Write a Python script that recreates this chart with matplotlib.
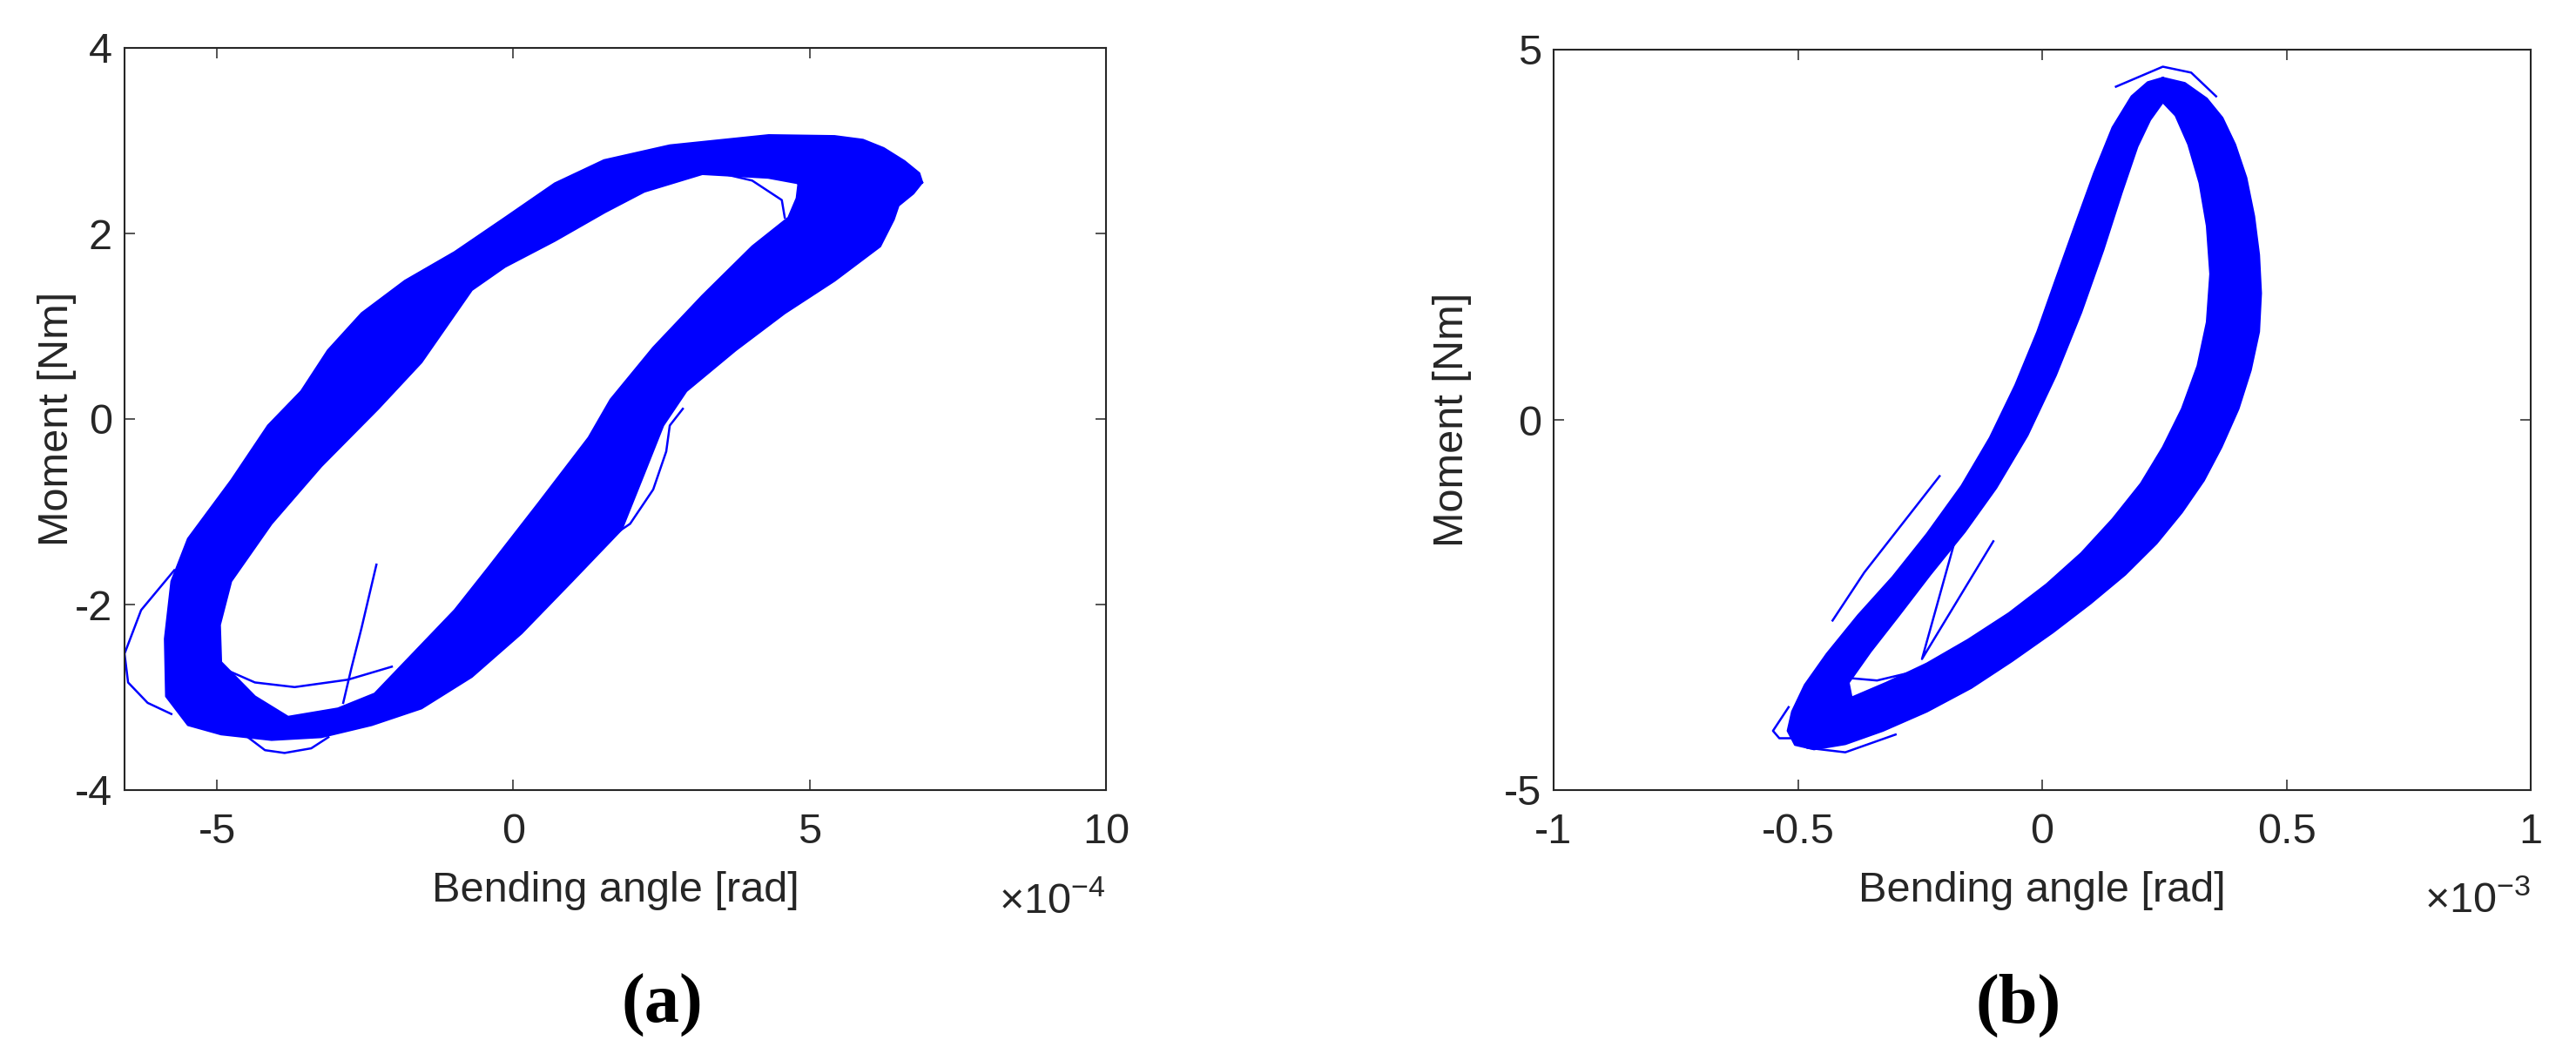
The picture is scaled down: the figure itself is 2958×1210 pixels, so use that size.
import matplotlib
matplotlib.use('Agg')
import matplotlib.pyplot as plt

plt.rcParams['font.family'] = ['Liberation Sans', 'DejaVu Sans']
plt.rcParams['mathtext.fontset'] = 'custom'
plt.rcParams['mathtext.rm'] = 'Liberation Sans'
plt.rcParams['axes.unicode_minus'] = False

TXT = '#262626'
BLUE = '#0000ff'

# panel (a): bending angle in units of 1e-4 rad, moment in Nm
# outer edge of the dense band of cycles
a_outer_x = [6.90, 6.85, 6.60, 6.25, 5.90, 5.42, 4.31, 2.64, 1.53, 0.70, -0.14, -0.99, -1.83,
             -2.56, -3.13, -3.58, -4.14, -4.76, -5.49, -5.77, -5.88, -5.86, -5.49, -4.93,
             -4.08, -3.24, -2.39, -1.55, -0.70, 0.14, 0.99, 1.83, 2.20, 2.53, 2.92, 3.75,
             4.58, 5.42, 6.19, 6.42, 6.50, 6.75]
a_outer_y = [2.55, 2.65, 2.78, 2.92, 3.01, 3.05, 3.06, 2.95, 2.79, 2.54, 2.17, 1.80, 1.49,
             1.14, 0.74, 0.30, -0.07, -0.66, -1.29, -1.75, -2.37, -2.99, -3.30, -3.40,
             -3.46, -3.43, -3.30, -3.12, -2.78, -2.31, -1.75, -1.19, -0.60, -0.07, 0.30, 0.74,
             1.14, 1.49, 1.86, 2.15, 2.30, 2.43]
# inner edge (the open middle of the loop)
a_inner_x = [4.81, 4.30, 3.19, 2.21, 1.55, 0.70, -0.14, -0.70, -1.55, -2.28, -3.24, -4.08,
             -4.76, -4.95, -4.93, -4.36, -3.80, -2.96, -2.34, -1.83, -0.99, -0.42, 0.42,
             1.27, 1.64, 2.36, 3.19, 4.03, 4.64, 4.78]
a_inner_y = [2.54, 2.60, 2.64, 2.45, 2.23, 1.92, 1.64, 1.39, 0.61, 0.11, -0.51, -1.13,
             -1.75, -2.22, -2.62, -2.99, -3.21, -3.12, -2.96, -2.62, -2.06, -1.60, -0.91,
             -0.20, 0.21, 0.77, 1.33, 1.86, 2.17, 2.38]
# single stray cycles and the start-up transient
a_strays = [
    ([-5.72, -6.28, -6.56, -6.50, -6.17, -5.77], [-1.63, -2.06, -2.53, -2.84, -3.06, -3.18]),
    ([-4.48, -4.19, -3.86, -3.41, -3.12], [-3.43, -3.57, -3.60, -3.55, -3.43]),
    ([-4.93, -4.36, -3.69, -2.79, -2.05], [-2.68, -2.84, -2.89, -2.81, -2.67]),
    ([3.36, 4.03, 4.53, 4.58], [2.67, 2.57, 2.36, 2.17]),
    ([2.86, 2.64, 2.58, 2.36, 1.97, 1.53], [0.11, -0.07, -0.35, -0.76, -1.13, -1.32]),
    ([-2.31, -2.56, -2.73, -2.87], [-1.57, -2.25, -2.68, -3.06]),
]

# panel (b): bending angle in units of 1e-3 rad, moment in Nm
b_outer_x = [0.247, 0.292, 0.337, 0.369, 0.395, 0.418, 0.434, 0.444, 0.448, 0.444,
             0.427, 0.402, 0.367, 0.331, 0.286, 0.234, 0.170, 0.099, 0.022, -0.062,
             -0.145, -0.236, -0.326, -0.403, -0.467, -0.506, -0.521, -0.512, -0.486,
             -0.441, -0.377, -0.306, -0.236, -0.165, -0.107, -0.055, -0.010, 0.028,
             0.067, 0.106, 0.144, 0.183, 0.216]
b_outer_y = [4.62, 4.55, 4.34, 4.08, 3.72, 3.27, 2.75, 2.23, 1.71, 1.19,
             0.67, 0.15, -0.37, -0.82, -1.25, -1.67, -2.09, -2.48, -2.87, -3.26,
             -3.62, -3.94, -4.20, -4.38, -4.45, -4.39, -4.20, -3.94, -3.58,
             -3.16, -2.64, -2.12, -1.54, -0.89, -0.24, 0.47, 1.19, 1.90,
             2.62, 3.33, 3.95, 4.37, 4.56]
b_inner_x = [0.247, 0.273, 0.299, 0.322, 0.337, 0.344, 0.337, 0.318, 0.286, 0.247,
             0.202, 0.144, 0.080, 0.009, -0.068, -0.152, -0.236, -0.319, -0.390,
             -0.396, -0.351, -0.293, -0.229, -0.158, -0.094, -0.030, 0.028, 0.080,
             0.125, 0.163, 0.195, 0.221]
b_inner_y = [4.29, 4.11, 3.72, 3.20, 2.62, 1.97, 1.32, 0.73, 0.15, -0.37,
             -0.86, -1.34, -1.80, -2.22, -2.61, -2.97, -3.29, -3.55, -3.75,
             -3.55, -3.13, -2.64, -2.09, -1.51, -0.92, -0.21, 0.60, 1.45,
             2.29, 3.07, 3.69, 4.05]
b_strays = [
    ([-0.100, -0.246, -0.165], [-1.64, -3.23, -1.31]),
    ([-0.390, -0.338, -0.236, -0.120], [-3.49, -3.52, -3.36, -3.06]),
    ([0.151, 0.247, 0.305, 0.356], [4.50, 4.77, 4.69, 4.37]),
    ([-0.429, -0.364, -0.287, -0.210], [-2.71, -2.06, -1.41, -0.76]),
    ([-0.519, -0.551, -0.538, -0.493], [-3.88, -4.20, -4.30, -4.30]),
    ([-0.480, -0.403, -0.300], [-4.43, -4.49, -4.25]),
]

W, H = 2958, 1210
fig = plt.figure(figsize=(W / 100, H / 100), dpi=100)

panels = [
    dict(rect=(143, 55, 1270, 907), outer=(a_outer_x, a_outer_y), inner=(a_inner_x, a_inner_y),
         strays=a_strays, xlim=(-6.56, 10), ylim=(-4, 4),
         xticks=[-5, 0, 5, 10], xlabels=['-5', '0', '5', '10'],
         yticks=[-4, -2, 0, 2, 4], ylabels=['-4', '-2', '0', '2', '4'],
         exp='-4', ylab_x=88, tag='(a)', tag_x=760),
    dict(rect=(1784, 57, 2906, 907), outer=(b_outer_x, b_outer_y), inner=(b_inner_x, b_inner_y),
         strays=b_strays, xlim=(-1, 1), ylim=(-5, 5),
         xticks=[-1, -0.5, 0, 0.5, 1], xlabels=['-1', '-0.5', '0', '0.5', '1'],
         yticks=[-5, 0, 5], ylabels=['-5', '0', '5'],
         exp='-3', ylab_x=1690, tag='(b)', tag_x=2318),
]

for p in panels:
    x0, y0, x1, y1 = p['rect']
    ax = fig.add_axes([x0 / W, 1 - y1 / H, (x1 - x0) / W, (y1 - y0) / H])
    ox, oy = p['outer']
    ix, iy = p['inner']
    ax.fill(ox, oy, color=BLUE, lw=0)
    ax.fill(ix, iy, color='white', lw=0)
    ax.plot(ox + ox[:1], oy + oy[:1], color=BLUE, lw=1.6)
    ax.plot(ix + ix[:1], iy + iy[:1], color=BLUE, lw=1.6)
    for sx, sy in p['strays']:
        ax.plot(sx, sy, color=BLUE, lw=1.8)

    ax.set_xlim(*p['xlim'])
    ax.set_ylim(*p['ylim'])
    ax.set_xticks(p['xticks'])
    ax.set_xticklabels(p['xlabels'])
    ax.set_yticks(p['yticks'])
    ax.set_yticklabels(p['ylabels'])
    ax.tick_params(direction='in', top=True, right=True, length=8.5, width=1.1,
                   colors=TXT, labelsize=35)
    ax.tick_params(axis='x', pad=19)
    ax.tick_params(axis='y', pad=10)
    for s in ax.spines.values():
        s.set_color(TXT)
        s.set_linewidth(1.5)

    ax.set_xlabel('Bending angle [rad]', fontsize=35, color=TXT)
    ax.xaxis.set_label_coords(0.5, (y1 - 1000) / (y1 - y0))
    ax.xaxis.label.set_va('top')
    ax.set_ylabel('Moment [Nm]', fontsize=35, color=TXT)
    ax.yaxis.set_label_coords((p['ylab_x'] - x0) / (x1 - x0), 0.5)

    ax.text(1.0, (y1 - 1048) / (y1 - y0), r'$\times10^{%s}$' % p['exp'],
            transform=ax.transAxes, ha='right', va='baseline', fontsize=35, color=TXT)

    fig.text(p['tag_x'] / W, 1 - 1154 / H, p['tag'], ha='center', va='center',
             fontsize=58, fontweight='bold', family='Liberation Serif', color='black')

fig.savefig('out.png', dpi=100, facecolor='white')
